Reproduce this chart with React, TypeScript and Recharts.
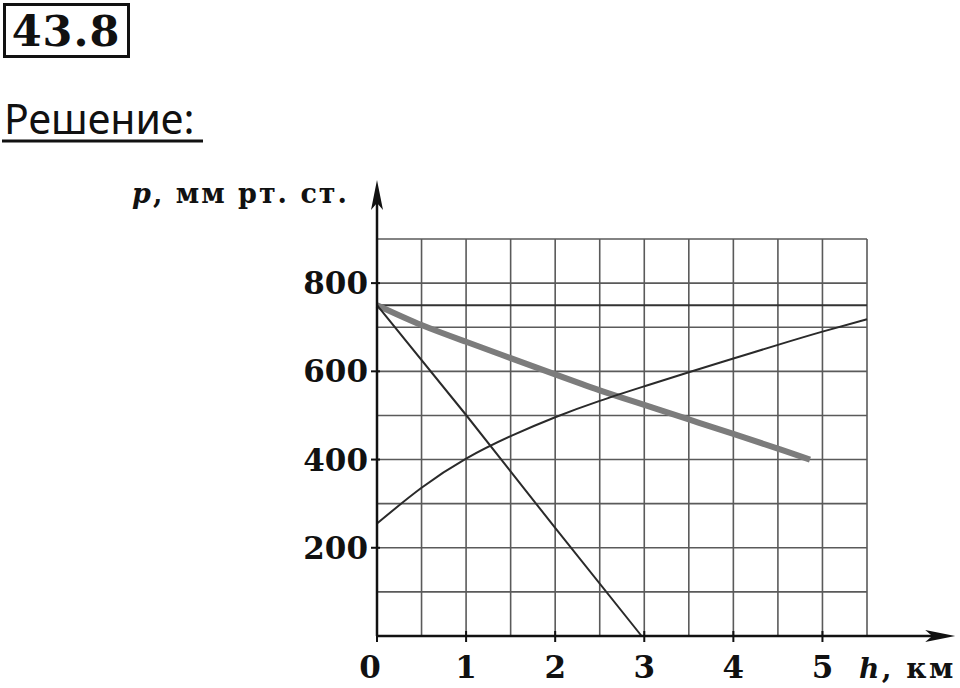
import { CartesianGrid, Line, LineChart, ReferenceLine, XAxis, YAxis } from 'recharts'

// grid / tick values
const hTicks = [0, 0.5, 1, 1.5, 2, 2.5, 3, 3.5, 4, 4.5, 5, 5.5]
const pTicks = [0, 100, 200, 300, 400, 500, 600, 700, 800, 900]
const hLabels = [0, 1, 2, 3, 4, 5]
const pLabels = [200, 400, 600, 800]

// horizontal line p = 750
const flatH = [0, 5.5]
const flatP = [750, 750]

// thick grey line
const thickH = [0, 0.5, 1, 1.5, 2, 2.5, 3, 3.5, 4, 4.5, 4.86]
const thickP = [750, 705, 667, 630, 593, 557, 524, 491, 458, 425, 400]

// steep line
const steepH = [0, 1, 2, 2.97]
const steepP = [750, 501, 245, 0]

// rising curve
const curveH = [0, 0.5, 1, 1.5, 2, 2.5, 3, 3.5, 4, 4.5, 5, 5.5]
const curveP = [255, 336, 402, 453, 496, 533, 566, 598, 629, 660, 690, 718]

const toRows = (hs: number[], ps: number[]) => hs.map((h, i) => ({ h, p: ps[i] }))

const serif = '"DejaVu Serif", serif'

function XTick({ x, y, payload }: any) {
  const v = payload.value
  if (!hLabels.includes(v)) return <g />
  return (
    <g>
      <line x1={x} x2={x} y1={y - 5} y2={y + 6} stroke="#111" strokeWidth={2} />
      <text x={v === 0 ? x - 7 : x} y={y + 42} textAnchor="middle" fontFamily={serif} fontWeight="bold" fontSize={31} fill="#111">
        {v}
      </text>
    </g>
  )
}

function YTick({ x, y, payload }: any) {
  const v = payload.value
  if (!pLabels.includes(v)) return <g />
  return (
    <g>
      <line x1={x - 6} x2={x + 3} y1={y} y2={y} stroke="#111" strokeWidth={2} />
      <text x={x - 9} y={y + 11} textAnchor="end" fontFamily={serif} fontWeight="bold" fontSize={31} fill="#111">
        {v}
      </text>
    </g>
  )
}

function Arrow({ x1, y1, x2, y2 }: any) {
  const dx = x2 - x1
  const dy = y2 - y1
  const len = Math.hypot(dx, dy)
  const ux = dx / len
  const uy = dy / len
  const L = 30
  const W = 6
  const bx = x2 - ux * L
  const by = y2 - uy * L
  const nx = -uy
  const ny = ux
  const head = `M${x2},${y2} L${bx + nx * W},${by + ny * W} L${x2 - ux * (L - 7)},${y2 - uy * (L - 7)} L${bx - nx * W},${by - ny * W} Z`
  return (
    <g>
      <line x1={x1} y1={y1} x2={x2 - ux * 10} y2={y2 - uy * 10} stroke="#111" strokeWidth={2.5} />
      <path d={head} fill="#111" />
    </g>
  )
}

export default function App() {
  return (
    <div style={{ position: 'absolute', left: 0, top: 0, width: 960, height: 688, background: '#fff' }}>
      <LineChart width={960} height={688} margin={{ top: 239, right: 93, bottom: 22, left: 317 }}>
        <CartesianGrid stroke="#5a5a5a" strokeWidth={1.6} />
        <XAxis
          type="number"
          dataKey="h"
          domain={[0, 5.5]}
          ticks={hTicks}
          height={30}
          axisLine={false}
          tickLine={false}
          tickSize={0}
          tickMargin={0}
          tick={<XTick />}
          interval={0}
        />
        <YAxis
          type="number"
          dataKey="p"
          domain={[0, 900]}
          ticks={pTicks}
          width={60}
          axisLine={false}
          tickLine={false}
          tickSize={0}
          tickMargin={0}
          tick={<YTick />}
          interval={0}
        />
        <Line data={toRows(flatH, flatP)} dataKey="p" stroke="#333" strokeWidth={2} dot={false} isAnimationActive={false} />
        <Line data={toRows(thickH, thickP)} dataKey="p" type="natural" stroke="#7c7c7c" strokeWidth={6} dot={false} isAnimationActive={false} />
        <Line data={toRows(steepH, steepP)} dataKey="p" stroke="#2a2a2a" strokeWidth={2} dot={false} isAnimationActive={false} />
        <Line data={toRows(curveH, curveP)} dataKey="p" type="natural" stroke="#2a2a2a" strokeWidth={2} dot={false} isAnimationActive={false} />
        <ReferenceLine segment={[{ x: 0, y: 0 }, { x: 6.49, y: 0 }]} ifOverflow="visible" shape={Arrow} />
        <ReferenceLine segment={[{ x: 0, y: 0 }, { x: 0, y: 1034 }]} ifOverflow="visible" shape={Arrow} />
      </LineChart>
      <svg width={960} height={688} style={{ position: 'absolute', left: 0, top: 0, pointerEvents: 'none' }}>
        <rect x={4.5} y={4.5} width={124} height={52} fill="none" stroke="#111" strokeWidth={3} />
        <text x={66} y={46} textAnchor="middle" fontFamily={serif} fontWeight="bold" fontSize={43} fill="#111" letterSpacing={1}>
          43.8
        </text>
        <text x={4} y={134} fontFamily='"Noto Sans", sans-serif' fontSize={41} fill="#111">
          Решение:
        </text>
        <line x1={2} x2={203} y1={141} y2={141} stroke="#111" strokeWidth={3} />
        <text x={132} y={203} fontFamily={serif} fontWeight="bold" fontSize={27} fill="#111" letterSpacing={2}>
          <tspan fontStyle="italic">p</tspan>, мм рт. ст.
        </text>
        <text x={859} y={678} fontFamily={serif} fontWeight="bold" fontSize={28} fill="#111" letterSpacing={2.5}>
          <tspan fontStyle="italic">h</tspan>, км
        </text>
      </svg>
    </div>
  )
}
